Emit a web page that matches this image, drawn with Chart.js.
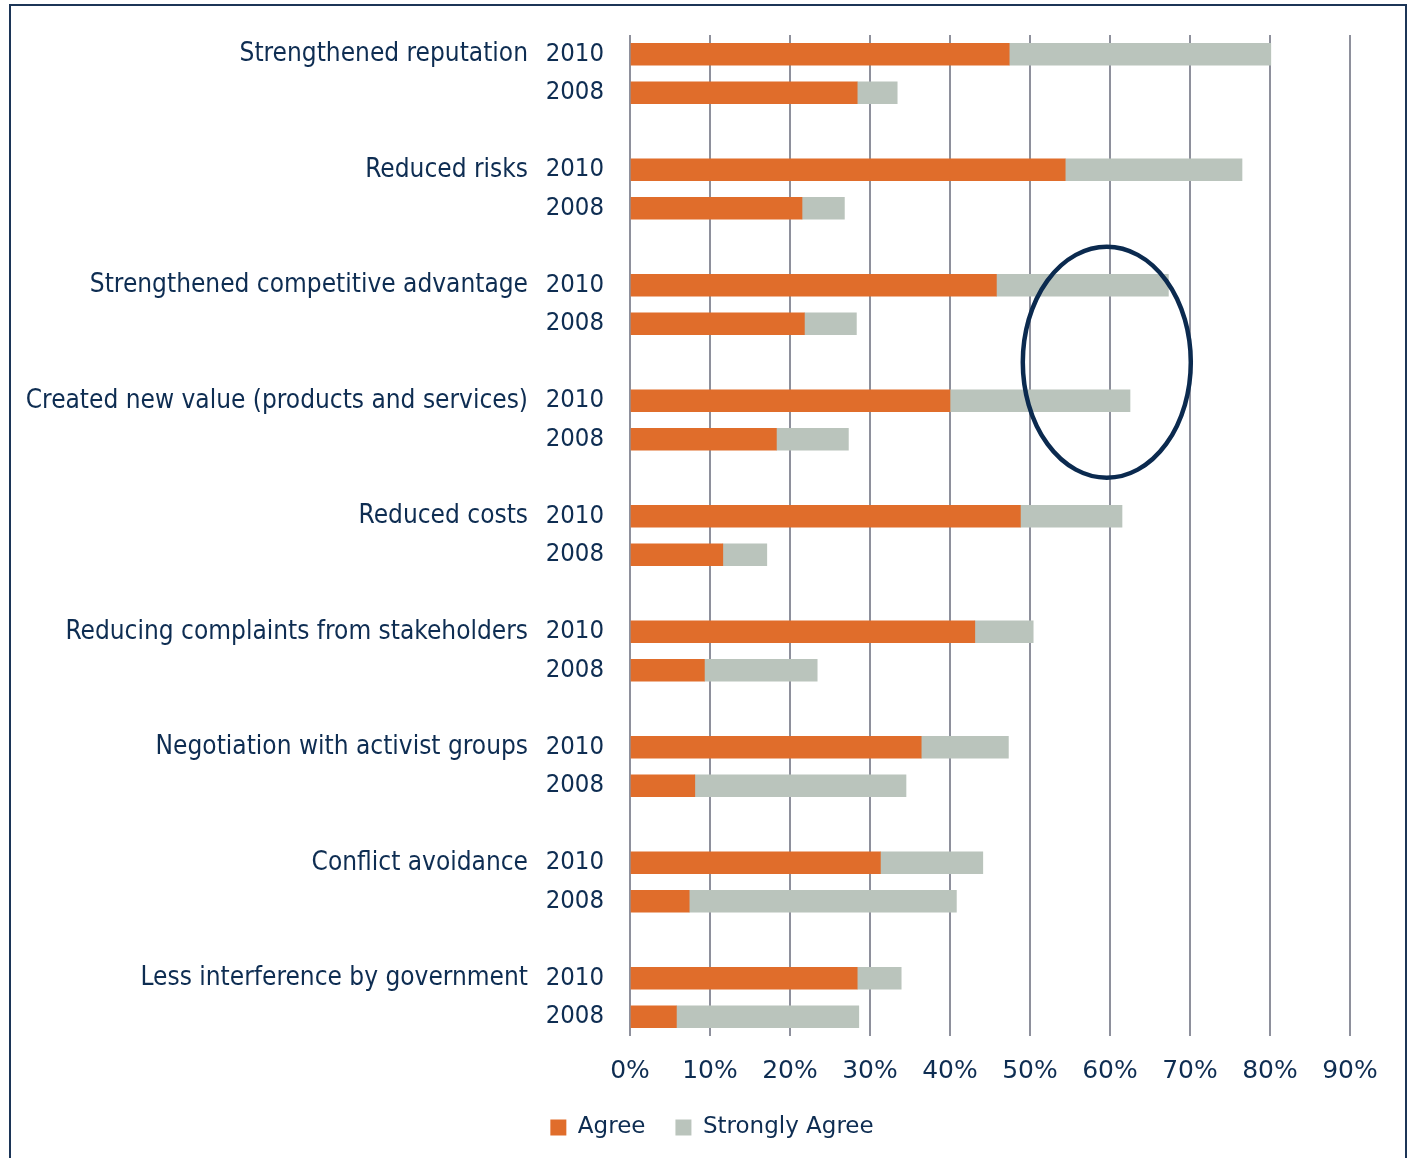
<!DOCTYPE html>
<html>
<head>
<meta charset="utf-8">
<script src="https://cdn.jsdelivr.net/npm/chart.js@4/dist/chart.umd.min.js"></script>
<style>
  html, body { margin: 0; padding: 0; background: #fff; }
  #wrap { position: relative; width: 1410px; height: 1158px; overflow: hidden; }
  #frame { position: absolute; left: 9px; top: 4px; width: 1398px; height: 1200px; border: 2px solid #1c3557; box-sizing: border-box; }
  #chart { position: absolute; left: 0; top: 0; }
</style>
</head>
<body>
<div id="wrap">
  <div id="frame"></div>
  <canvas id="chart" width="1410" height="1158"></canvas>
</div>
<script>
const categories = [
  "Strengthened reputation",
  "Reduced risks",
  "Strengthened competitive advantage",
  "Created new value (products and services)",
  "Reduced costs",
  "Reducing complaints from stakeholders",
  "Negotiation with activist groups",
  "Conflict avoidance",
  "Less interference by government",
];
const years = ["2010", "2008"];
const agree2010 = [47.4, 54.4, 45.8, 40.0, 48.8, 43.1, 36.4, 31.3, 28.4];
const strong2010 = [32.7, 22.1, 21.5, 22.5, 12.7, 7.3, 10.9, 12.8, 5.5];
const agree2008 = [28.4, 21.5, 21.8, 18.3, 11.6, 9.3, 8.1, 7.4, 5.8];
const strong2008 = [5.0, 5.3, 6.5, 9.0, 5.5, 14.1, 26.4, 33.4, 22.8];
const xTicks = [0, 10, 20, 30, 40, 50, 60, 70, 80, 90];

// rows: 2010, 2008, gap between groups
const yearLabels = [];
const catLabels = [];
const agreeRows = [];
const strongRows = [];
categories.forEach((c, i) => {
  if (i > 0) {
    yearLabels.push("");
    catLabels.push("");
    agreeRows.push(null);
    strongRows.push(null);
  }
  yearLabels.push(years[0], years[1]);
  catLabels.push(c, "");
  agreeRows.push(agree2010[i], agree2008[i]);
  strongRows.push(strong2010[i], strong2008[i]);
});

const navy = "#0e2d52";

const ellipse = {
  id: "ellipse",
  afterLayout(chart) {
    // legend sits a bit right of the padded box centre
    chart.legend.left += 32;
    chart.legend.right += 32;
  },
  afterDatasetsDraw(chart) {
    const x = chart.scales.x, y = chart.scales.y;
    const cx = x.getPixelForValue(59.6);
    const cy = y.getPixelForValue(8);
    const rx = x.getPixelForValue(10.5) - x.getPixelForValue(0);
    const ry = y.getPixelForValue(11) - y.getPixelForValue(8);
    const ctx = chart.ctx;
    ctx.save();
    ctx.beginPath();
    ctx.ellipse(cx, cy, rx, ry, 0, 0, Math.PI * 2);
    ctx.strokeStyle = "#0b2a4f";
    ctx.lineWidth = 4.5;
    ctx.stroke();
    ctx.restore();
  },
};

const fixLeft = (w) => (s) => {
  s.width = w;
  s.paddingTop = 0;
  s.paddingBottom = 0;
};

new Chart(document.getElementById("chart"), {
  type: "bar",
  data: {
    labels: yearLabels,
    datasets: [
      {
        label: "Agree",
        data: agreeRows,
        backgroundColor: "#e06d2b",
        barThickness: 22,
      },
      {
        label: "Strongly Agree",
        data: strongRows,
        backgroundColor: "#bac4bc",
        barThickness: 22,
      },
    ],
  },
  options: {
    indexAxis: "y",
    responsive: false,
    animation: false,
    layout: { padding: { left: 10, right: 60, top: 35, bottom: 9 } },
    plugins: {
      tooltip: { enabled: false },
      legend: {
        position: "bottom",
        labels: {
          color: navy,
          font: { family: "DejaVu Sans", size: 23 },
          boxWidth: 16,
          boxHeight: 16,
          padding: 30,
        },
      },
    },
    scales: {
      x: {
        stacked: true,
        min: 0,
        max: 90,
        afterBuildTicks: (s) => { s.ticks = xTicks.map((v) => ({ value: v })); },
        ticks: {
          color: navy,
          font: { family: "DejaVu Sans", size: 25 },
          padding: 20,
          callback: (v) => v + "%",
        },
        grid: { color: "#8e909c", lineWidth: 2, drawTicks: false },
        border: { display: false },
        afterFit: (s) => { s.height = 50; },
      },
      y: {
        stacked: true,
        weight: 0,
        ticks: {
          color: navy,
          font: { family: "DejaVu Sans Condensed", size: 25.5 },
          padding: 26,
          autoSkip: false,
        },
        grid: { display: false, drawTicks: false },
        border: { display: false },
        afterFit: fixLeft(102),
      },
      y2: {
        type: "category",
        position: "left",
        weight: 1,
        labels: catLabels,
        offset: true,
        ticks: {
          color: navy,
          font: { family: "DejaVu Sans Condensed", size: 26 },
          padding: 0,
          autoSkip: false,
        },
        grid: { display: false, drawTicks: false },
        border: { display: false },
        afterFit: fixLeft(518),
      },
    },
  },
  plugins: [ellipse],
});
</script>
</body>
</html>
